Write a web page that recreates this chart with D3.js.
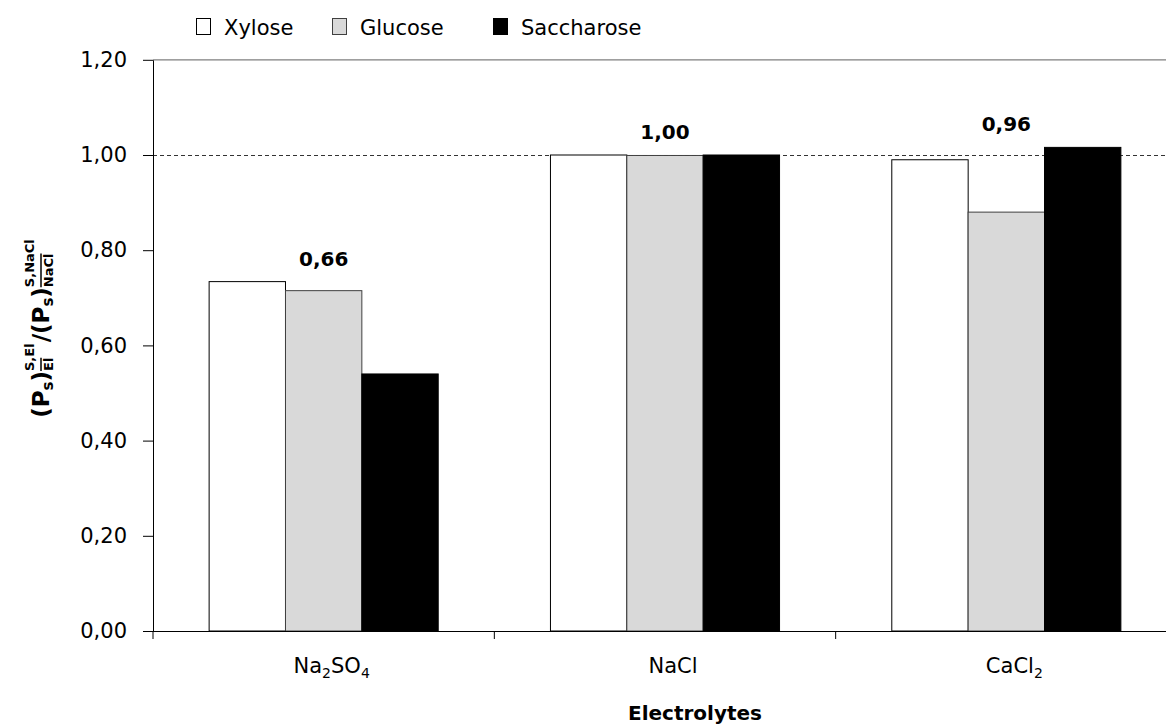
<!DOCTYPE html>
<html><head><meta charset="utf-8">
<script src="https://cdn.jsdelivr.net/npm/d3@7"></script>
<style>body{margin:0;background:#fff;} svg{display:block;}</style>
</head><body>
<svg id="c" width="1166" height="724"></svg>
<script>
const categories = ["Na2SO4", "NaCl", "CaCl2"];
const series = ["Xylose", "Glucose", "Saccharose"];
const xylose = [0.734, 1.000, 0.990];
const glucose = [0.715, 0.999, 0.880];
const saccharose = [0.540, 1.000, 1.016];
const ratioLabels = ["0,66", "1,00", "0,96"];
const yTicks = [0, 0.2, 0.4, 0.6, 0.8, 1.0, 1.2];
const refLine = 1.0;

const seriesValues = [xylose, glucose, saccharose];
const fills = ["#ffffff", "#d9d9d9", "#000000"];
const strokes = ["#000000", "#404040", "#000000"];
const FONT = "'DejaVu Sans', sans-serif";

const svg = d3.select("#c");
const x = d3.scaleBand().domain(categories).range([153, 1177]).paddingInner(0).paddingOuter(0);
const x1 = d3.scaleBand().domain(series).range([0, x.bandwidth()]).paddingInner(0).paddingOuter(0.735);
const y = d3.scaleLinear().domain([0, 1.2]).range([631, 59.8]);
const fmt = d => d3.format(".2f")(d).replace(".", ",");

// top border (gray)
svg.append("line").attr("x1", 153).attr("x2", 1177).attr("y1", y(1.2)).attr("y2", y(1.2))
  .attr("stroke", "#7f7f7f").attr("stroke-width", 1.3);

// reference dashed line
svg.append("line").attr("x1", 153).attr("x2", 1177).attr("y1", Math.round(y(refLine)) + 0.5).attr("y2", Math.round(y(refLine)) + 0.5)
  .attr("stroke", "#333").attr("stroke-width", 1).attr("stroke-dasharray", "4,3");

// bars
const groups = svg.append("g").selectAll("g").data(categories).join("g")
  .attr("transform", d => `translate(${x(d)},0)`);
groups.selectAll("rect").data((c, ci) => series.map((s, si) => ({s, si, v: seriesValues[si][ci]}))).join("rect")
  .attr("x", d => x1(d.s)).attr("width", x1.bandwidth())
  .attr("y", d => y(d.v)).attr("height", d => y(0) - y(d.v))
  .attr("fill", d => fills[d.si]).attr("stroke", d => strokes[d.si]).attr("stroke-width", 1);

// value labels
svg.append("g").selectAll("text").data(categories).join("text")
  .attr("x", d => x(d) + x.bandwidth() / 2)
  .attr("y", (d, i) => y(d3.max(seriesValues, s => s[i])) - 16)
  .attr("text-anchor", "middle")
  .style("font", `bold 20px ${FONT}`).attr("fill", "#000")
  .text((d, i) => ratioLabels[i]);

// y axis
const yAxis = svg.append("g").attr("transform", "translate(153,0)")
  .call(d3.axisLeft(y).tickValues(yTicks).tickSize(10).tickSizeOuter(0).tickPadding(16).tickFormat(fmt));
yAxis.select(".domain").attr("stroke", "#000");
yAxis.selectAll(".tick line").attr("stroke", "#000");
yAxis.selectAll(".tick text").style("font", `21px ${FONT}`).attr("fill", "#000");

// x axis
svg.append("line").attr("x1", 143).attr("x2", 1177).attr("y1", y(0) + 0.5).attr("y2", y(0) + 0.5).attr("stroke", "#000");
const bounds = categories.map(c => x(c));
svg.append("g").selectAll("line").data(bounds).join("line")
  .attr("x1", d => d).attr("x2", d => d).attr("y1", y(0)).attr("y2", y(0) + 8).attr("stroke", "#000");

const catText = svg.append("g").selectAll("text").data(categories).join("text")
  .attr("x", d => x(d) + x.bandwidth() / 2 + 8).attr("y", 673)
  .attr("text-anchor", "middle").style("font", `21px ${FONT}`).attr("fill", "#000");
catText.each(function(d) {
  const t = d3.select(this);
  const parts = d.match(/[A-Za-z]+|\d+/g);
  let sub = false;
  parts.forEach(p => {
    const isNum = /\d/.test(p);
    const ts = t.append("tspan").text(p);
    if (isNum) { ts.style("font-size", "14px").attr("dy", sub ? 0 : 5); sub = true; }
    else { if (sub) ts.attr("dy", -5); sub = false; ts.style("font-size", "21px"); }
  });
});

// x title
svg.append("text").attr("x", 695).attr("y", 720).attr("text-anchor", "middle")
  .style("font", `bold 20px ${FONT}`).attr("fill", "#000").text("Electrolytes");

// legend
const legX = [196, 332, 493];
const leg = svg.append("g").selectAll("g").data(series).join("g")
  .attr("transform", (d, i) => `translate(${legX[i]},0)`);
leg.append("rect").attr("x", 0.5).attr("y", 18.5).attr("width", 14).attr("height", 16)
  .attr("fill", (d, i) => fills[i]).attr("stroke", (d, i) => strokes[i]);
leg.append("text").attr("x", 28).attr("y", 35).style("font", `21px ${FONT}`).attr("fill", "#000").text(d => d);

// y title (rotated, with super/subscripts)
const yt = svg.append("g");
let cx = 0;
function piece(txt, size, dy) {
  const t = yt.append("text").attr("x", cx).attr("y", dy).style("font", `bold ${size}px ${FONT}`).attr("fill", "#000").text(txt);
  return t.node().getComputedTextLength();
}
function main(txt) { cx += piece(txt, 23, 0); }
function subS() { cx += piece("s", 15, 4); }
function stack(sup, sub) {
  const w1 = piece(sup, 13, -15);
  const w2 = piece(sub, 13, 4);
  yt.append("line").attr("x1", cx).attr("x2", cx + w2).attr("y1", -8).attr("y2", -8).attr("stroke", "#000").attr("stroke-width", 1.5);
  cx += Math.max(w1, w2) + 1;
}
main("("); main("P"); subS(); main(")"); stack("S,El", "El");
main("/");
main("("); main("P"); subS(); main(")"); stack("S,NaCl", "NaCl");
yt.attr("transform", `translate(49,${328 + cx / 2}) rotate(-90)`);
</script>
</body></html>
